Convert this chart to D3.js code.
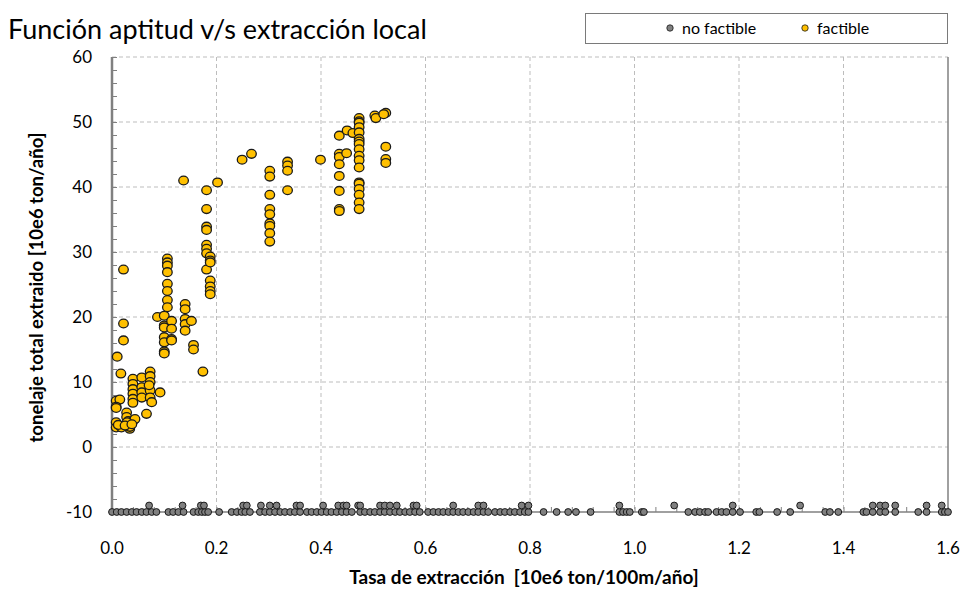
<!DOCTYPE html>
<html>
<head>
<meta charset="utf-8">
<script src="https://cdn.jsdelivr.net/npm/d3@7"></script>
<style>
    body { margin: 0; background: #fff; }
    svg text { font-family: Lato, "Open Sans", sans-serif; fill: #000; }
</style>
</head>
<body>
<svg class="scatter" width="962" height="591"></svg>
<script>
// Data: [tasa, tonelaje]
const factible = [
    [0.022, 27.3], [0.022, 19.0], [0.022, 16.4], [0.010, 13.9], [0.017, 11.3],
    [0.008, 7.1], [0.015, 7.3], [0.008, 6.2], [0.008, 6.0],
    [0.008, 3.8], [0.008, 3.0], [0.018, 3.0], [0.012, 3.4], [0.034, 2.8],
    [0.028, 5.3], [0.028, 4.6], [0.031, 4.0], [0.040, 4.0], [0.044, 4.3],
    [0.029, 3.8], [0.034, 3.1], [0.025, 3.3], [0.038, 3.5],
    [0.040, 10.5], [0.040, 9.7], [0.040, 8.9], [0.040, 8.2], [0.040, 7.4], [0.040, 6.8],
    [0.057, 10.7], [0.057, 9.2], [0.057, 8.4], [0.057, 7.6],
    [0.073, 11.6], [0.073, 10.9], [0.073, 10.0], [0.073, 8.7], [0.073, 7.6], [0.071, 9.5],
    [0.076, 6.9], [0.066, 5.1], [0.092, 8.4],
    [0.087, 20.0], [0.100, 20.2],
    [0.106, 29.0], [0.106, 28.4], [0.106, 27.9], [0.106, 26.9], [0.106, 25.1],
    [0.106, 24.0], [0.106, 22.6], [0.106, 21.5],
    [0.100, 18.7], [0.100, 18.4], [0.100, 16.9], [0.100, 16.1], [0.100, 14.7], [0.100, 14.4],
    [0.114, 19.4], [0.114, 18.2], [0.114, 16.6], [0.114, 16.4],
    [0.140, 22.0], [0.140, 21.2], [0.140, 19.7], [0.140, 18.9], [0.140, 17.9],
    [0.152, 19.4], [0.156, 15.7], [0.156, 15.0], [0.174, 11.6], [0.137, 41.0],
    [0.181, 39.5], [0.181, 36.6], [0.181, 33.9], [0.181, 33.4], [0.181, 31.1],
    [0.181, 30.5], [0.181, 29.8], [0.181, 27.3],
    [0.188, 29.3], [0.188, 28.7], [0.188, 28.4], [0.188, 25.6], [0.188, 24.7],
    [0.188, 24.0], [0.188, 23.5],
    [0.202, 40.7], [0.249, 44.2], [0.267, 45.1],
    [0.302, 42.5], [0.302, 41.6], [0.302, 38.8], [0.302, 36.6], [0.302, 35.8],
    [0.302, 34.4], [0.302, 34.0], [0.302, 32.9], [0.302, 31.6],
    [0.336, 43.9], [0.336, 43.3], [0.336, 42.5], [0.336, 39.5],
    [0.399, 44.2],
    [0.435, 47.9], [0.435, 45.1], [0.435, 44.6], [0.435, 43.5], [0.435, 41.7],
    [0.435, 39.4], [0.435, 36.6], [0.435, 36.3],
    [0.450, 48.7], [0.461, 48.3], [0.449, 45.2],
    [0.473, 50.6], [0.473, 50.1], [0.473, 49.9], [0.473, 49.2], [0.473, 48.4],
    [0.473, 47.4], [0.473, 47.0], [0.473, 46.6], [0.473, 45.8], [0.473, 44.8],
    [0.473, 44.1], [0.473, 43.0], [0.473, 40.7], [0.473, 40.5], [0.473, 39.7],
    [0.473, 38.8], [0.473, 37.6], [0.473, 36.6],
    [0.503, 51.0], [0.505, 50.6], [0.524, 51.4], [0.520, 51.2],
    [0.524, 46.2], [0.524, 44.3], [0.524, 43.7]
];

// Non feasible solutions sit on the -10 floor, a few at -9
const noFactibleBase = [
    0.000, 0.009, 0.018, 0.028, 0.038, 0.047, 0.057, 0.066, 0.076, 0.085,
    0.108, 0.117, 0.127, 0.137, 0.156, 0.165, 0.172, 0.178, 0.184, 0.205,
    0.229, 0.239, 0.248, 0.255, 0.264, 0.283, 0.293, 0.302, 0.312, 0.322,
    0.331, 0.341, 0.350, 0.360, 0.373, 0.382, 0.392, 0.401, 0.411, 0.420,
    0.430, 0.440, 0.449, 0.459, 0.475, 0.484, 0.494, 0.503, 0.513, 0.522,
    0.532, 0.542, 0.551, 0.561, 0.570, 0.580, 0.589, 0.605, 0.615, 0.625,
    0.634, 0.644, 0.653, 0.663, 0.672, 0.682, 0.692, 0.701, 0.711, 0.720,
    0.733, 0.743, 0.752, 0.762, 0.771, 0.781, 0.790, 0.797, 0.826, 0.851,
    0.873, 0.888, 0.916, 0.971, 0.978, 0.985, 0.991, 1.014, 1.018, 1.103,
    1.116, 1.125, 1.135, 1.141, 1.157, 1.167, 1.176, 1.188, 1.202, 1.233,
    1.239, 1.273, 1.298, 1.365, 1.374, 1.390, 1.438, 1.444, 1.456, 1.470,
    1.480, 1.499, 1.543, 1.559, 1.588, 1.594, 1.600
];
const noFactibleRaised = [
    0.071, 0.135, 0.170, 0.176, 0.251, 0.258, 0.285, 0.302, 0.315, 0.353,
    0.360, 0.404, 0.433, 0.443, 0.449, 0.471, 0.475, 0.513, 0.522, 0.532,
    0.545, 0.577, 0.583, 0.653, 0.701, 0.711, 0.784, 0.797, 0.971, 1.076,
    1.188, 1.317, 1.456, 1.470, 1.480, 1.499, 1.559, 1.588
];
const noFactible = noFactibleBase.map((x) => [x, -10])
    .concat(noFactibleRaised.map((x) => [x, -9]));

const xTicks = [0, 0.2, 0.4, 0.6, 0.8, 1.0, 1.2, 1.4, 1.6];
const yTicks = [-10, 0, 10, 20, 30, 40, 50, 60];

const titleText = 'Función aptitud v/s extracción local';
const xLabel = 'Tasa de extracción  [10e6 ton/100m/año]';
const yLabel = 'tonelaje total extraido [10e6 ton/año]';

/*  ==============
    CONFIG
    ==============
 */
let svg = d3.select('.scatter');
const margin = {left: 112, right: 14, top: 57, bottom: 79};
const width = 962 - margin.left - margin.right;
const height = 591 - margin.top - margin.bottom;

const xScale = d3.scaleLinear().domain([0, 1.6]).range([0, width]);
const yScale = d3.scaleLinear().domain([-10, 60]).range([height, 0]);

const yellow = '#FFC000';
const grey = '#808080';

let plot = svg.append('g')
    .attr('transform', `translate(${margin.left},${margin.top})`);

/*  Grid */
plot.append('g')
    .selectAll('line')
    .data(yTicks.filter((d) => d > -10))
    .enter()
    .append('line')
    .attr('x1', 0).attr('x2', width)
    .attr('y1', (d) => yScale(d)).attr('y2', (d) => yScale(d))
    .attr('stroke', '#bdbdbd')
    .attr('stroke-dasharray', '4,3');
plot.append('g')
    .selectAll('line')
    .data(xTicks.filter((d) => d > 0 && d < 1.6))
    .enter()
    .append('line')
    .attr('x1', (d) => xScale(d)).attr('x2', (d) => xScale(d))
    .attr('y1', 0).attr('y2', height)
    .attr('stroke', '#bdbdbd')
    .attr('stroke-dasharray', '4,3');

// right border
plot.append('line')
    .attr('x1', width).attr('x2', width)
    .attr('y1', 0).attr('y2', height)
    .attr('stroke', grey).attr('stroke-width', 1.5);

/*  Axes */
// minor ticks point inwards
let yAxis = plot.append('g')
    .call(d3.axisRight(yScale).tickValues(d3.range(-10, 60.1, 2)).tickSize(5).tickFormat(''));
let xAxis = plot.append('g')
    .attr('transform', `translate(0,${height})`)
    .call(d3.axisTop(xScale).tickValues(d3.range(0, 1.601, 0.04)).tickSize(5).tickFormat(''));
[yAxis, xAxis].forEach((ax) => {
    ax.selectAll('line').attr('stroke', grey);
    ax.select('.domain').remove();
});

plot.append('line')
    .attr('x1', 0).attr('x2', width)
    .attr('y1', height).attr('y2', height)
    .attr('stroke', grey).attr('stroke-width', 1.5);
plot.append('line')
    .attr('x1', 0).attr('x2', 0)
    .attr('y1', 0).attr('y2', height)
    .attr('stroke', grey).attr('stroke-width', 2.5);

// tick labels
plot.append('g')
    .selectAll('text')
    .data(yTicks)
    .enter()
    .append('text')
    .attr('x', -20)
    .attr('y', (d) => yScale(d))
    .attr('dy', '0.35em')
    .attr('text-anchor', 'end')
    .attr('font-size', 17)
    .text((d) => d);
plot.append('g')
    .selectAll('text')
    .data(xTicks)
    .enter()
    .append('text')
    .attr('x', (d) => xScale(d))
    .attr('y', height + 42)
    .attr('text-anchor', 'middle')
    .attr('font-size', 17)
    .text((d) => d3.format('.1f')(d));

/*  Points */
plot.append('g')
    .selectAll('circle')
    .data(noFactible)
    .enter()
    .append('circle')
    .attr('cx', (d) => xScale(d[0]))
    .attr('cy', (d) => yScale(d[1]))
    .attr('r', 3.4)
    .attr('fill', grey)
    .attr('stroke', '#1a1a1a')
    .attr('stroke-width', 1);

plot.append('g')
    .selectAll('ellipse')
    .data(factible)
    .enter()
    .append('ellipse')
    .attr('cx', (d) => xScale(d[0]))
    .attr('cy', (d) => yScale(d[1]))
    .attr('rx', 4.8)
    .attr('ry', 4.4)
    .attr('fill', yellow)
    .attr('stroke', '#1a1a1a')
    .attr('stroke-width', 1.3);

/*  Titles */
svg.append('text')
    .attr('x', 8)
    .attr('y', 39)
    .attr('font-size', 27)
    .text(titleText);

svg.append('text')
    .attr('x', margin.left + width / 2 - 6)
    .attr('y', 584)
    .attr('text-anchor', 'middle')
    .attr('font-size', 19)
    .attr('font-weight', 'bold')
    .style('white-space', 'pre')
    .text(xLabel);

svg.append('text')
    .attr('transform', `translate(37,${margin.top + height / 2 + 3}) rotate(-90)`)
    .attr('text-anchor', 'middle')
    .attr('dy', '0.35em')
    .attr('font-size', 18.5)
    .attr('font-weight', 'bold')
    .text(yLabel);

/*  Legend */
let legend = svg.append('g');
legend.append('rect')
    .attr('x', 585.5).attr('y', 13.5)
    .attr('width', 362).attr('height', 30)
    .attr('fill', '#fff')
    .attr('stroke', '#7a7a7a');

const legendItems = [
    {label: 'no factible', color: grey, x: 670},
    {label: 'factible', color: yellow, x: 805}
];
let items = legend.selectAll('g.item')
    .data(legendItems)
    .enter()
    .append('g')
    .attr('class', 'item')
    .attr('transform', (d) => `translate(${d.x},28)`);
items.append('circle')
    .attr('r', 3.2)
    .attr('fill', (d) => d.color)
    .attr('stroke', '#1a1a1a')
    .attr('stroke-width', 0.8);
items.append('text')
    .attr('x', 12)
    .attr('dy', '0.35em')
    .attr('font-size', 16)
    .text((d) => d.label);
</script>
</body>
</html>
